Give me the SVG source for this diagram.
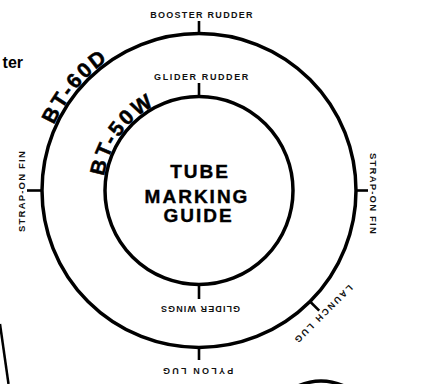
<svg xmlns="http://www.w3.org/2000/svg" width="425" height="384" viewBox="0 0 425 384">
  <style>
    .ring { fill: none; stroke: #000; stroke-width: 3.5; }
    .tick { stroke: #000; stroke-width: 2.6; fill: none; }
    .lbl { font-family: "Liberation Sans", Arial, sans-serif; font-weight: bold; font-size: 9px; fill: #111; letter-spacing: 1.3px; text-anchor: middle; }
    .big { font-family: "Liberation Sans", Arial, sans-serif; font-weight: bold; font-size: 21px; fill: #000; stroke: #000; stroke-width: 0.5px; letter-spacing: 2.5px; text-anchor: middle; }
    .title { font-family: "Liberation Sans", Arial, sans-serif; font-weight: bold; font-size: 19px; fill: #000; stroke: #000; stroke-width: 0.4px; letter-spacing: 2px; text-anchor: middle; }
  </style>
  <defs>
    <path id="outerArc" d="M 49.6 244.9 A 159 159 0 0 1 226.6 33.9" fill="none"/>
    <path id="innerArc" d="M 111.3 229.5 A 96 96 0 0 1 209.0 95.0" fill="none"/>
  </defs>
  <rect width="425" height="384" fill="#fff"/>

  <g id="fragment-left-text">
    <text x="23" y="68" font-family="Liberation Sans, Arial, sans-serif" font-weight="bold" font-size="16" text-anchor="end" fill="#000">ter</text>
  </g>

  <g id="outer-tube-BT-60D">
    <circle class="ring" cx="199" cy="190.5" r="157"/>
    <text class="big"><textPath href="#outerArc" startOffset="50%">BT-60D</textPath></text>
  </g>

  <g id="inner-tube-BT-50W">
    <circle class="ring" cx="199" cy="190.5" r="94"/>
    <text class="big"><textPath href="#innerArc" startOffset="50%">BT-50W</textPath></text>
  </g>

  <g id="title">
    <text class="title" x="200" y="177.5">TUBE</text>
    <text class="title" x="197" y="203">MARKING</text>
    <text class="title" x="198.5" y="222">GUIDE</text>
  </g>

  <g id="connectors">
    <line class="tick" x1="199" y1="21" x2="199" y2="33.5"/>
    <line class="tick" x1="199" y1="83" x2="199" y2="96.5"/>
    <line class="tick" x1="199" y1="284.5" x2="199" y2="299"/>
    <line class="tick" x1="199" y1="347.5" x2="199" y2="360"/>
    <line class="tick" x1="27" y1="190.5" x2="42" y2="190.5"/>
    <line class="tick" x1="356" y1="190.5" x2="368" y2="190.5"/>
    <line class="tick" x1="310" y1="301.5" x2="319.2" y2="310.7"/>
  </g>

  <g id="label-booster-rudder">
    <text class="lbl" x="202" y="17.5">BOOSTER RUDDER</text>
  </g>
  <g id="label-glider-rudder">
    <text class="lbl" x="202" y="79.5" style="letter-spacing:1.6px">GLIDER RUDDER</text>
  </g>
  <g id="label-glider-wings">
    <text class="lbl" transform="translate(200,305.5) rotate(180)" x="0" y="0" style="letter-spacing:1.1px">GLIDER WINGS</text>
  </g>
  <g id="label-pylon-lug">
    <text class="lbl" transform="translate(197,367.5) rotate(180)" x="0" y="0" style="letter-spacing:2.2px">PYLON LUG</text>
  </g>
  <g id="label-strap-on-fin-left">
    <text class="lbl" transform="translate(24.5,191) rotate(-90)" x="0" y="0" style="font-size:9.5px;letter-spacing:1.2px">STRAP-ON FIN</text>
  </g>
  <g id="label-strap-on-fin-right">
    <text class="lbl" transform="translate(370,194) rotate(90)" x="0" y="0" style="font-size:9.5px;letter-spacing:1.2px">STRAP-ON FIN</text>
  </g>
  <g id="label-launch-lug">
    <text class="lbl" transform="translate(320.8,312.3) rotate(135)" x="0" y="0" style="letter-spacing:2px">LAUNCH LUG</text>
  </g>

  <g id="fragments">
    <path d="M 0 324 L 8.5 384" stroke="#000" stroke-width="2.5" fill="none"/>
    <path d="M 298 386 Q 321 376 344 386" stroke="#000" stroke-width="3.5" fill="none"/>
  </g>
</svg>
